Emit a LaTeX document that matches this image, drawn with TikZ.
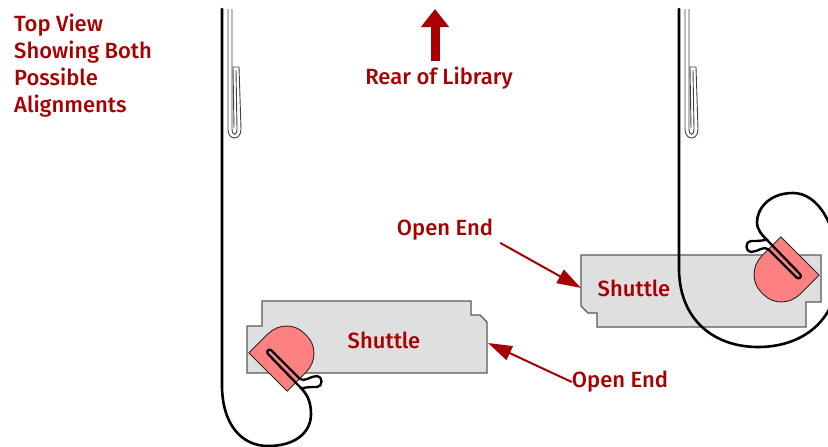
\documentclass[tikz,border=0pt]{standalone}
\usepackage{fontspec}
\setmainfont{Liberation Sans}
\newfontfamily\labelfamily{Fira Sans}[UprightFont=* Medium]
\usetikzlibrary{arrows.meta}

\definecolor{labelred}{HTML}{A80000}
\definecolor{shuttlegray}{HTML}{DFDFDF}
\definecolor{plugpink}{HTML}{FF8080}

\newcommand\labelsize{\labelfamily\fontsize{22}{26.8}\selectfont}

% One shuttle with its connector and the cable's hairpin, in the lower-left position.
\newcommand\shuttleunit{%
  \path[shuttlebody] (262,301) -- (471,301) -- (471,315) -- (480,315) -- (487,322)
    -- (487,373) -- (247,373) -- (247,326) -- (262,326) -- cycle;
  \begin{scope}[shift={(268,372)}, rotate=45]
    \path[plugbody] (0,-27) -- (27,-27) .. controls (41,-27) and (53,-16) .. (53,-2)
      -- (53,2) .. controls (53,16) and (41,27) .. (27,27) -- (0,27) -- cycle;
  \end{scope}
  \draw[cable, line width=2.3pt] (300,387) -- (268,354)
    .. controls (265.5,351.5) and (269,348) .. (271.5,350.5) -- (299.5,378.5)
    .. controls (304,383) and (310,376) .. (317,376)
    .. controls (323,376) and (323,387) .. (317,387)
    .. controls (311,387) and (306,387) .. (302,388.5);
}

\begin{document}
\begin{tikzpicture}[x=1pt, y=-1pt,
  cable/.style={line width=2.6pt, line cap=round, line join=round},
  sleeve/.style={line width=0.9pt, draw=black!75},
  shuttlebody/.style={fill=shuttlegray, draw=black!65, line width=1.2pt},
  plugbody/.style={fill=plugpink, draw=black!85, line width=0.9pt},
  caption/.style={text=labelred, font=\labelsize, inner sep=0pt},
  pointer/.style={draw=labelred, line width=2pt, -{Triangle[length=24pt,width=15pt]}},
  rearpointer/.style={draw=labelred, line width=9pt, -{Triangle[length=18pt,width=27pt]}},
]
\useasboundingbox (0,0) rectangle (828,447);
\clip (0,0) rectangle (828,447);

% Shuttles: the second one is the first turned half a turn
\shuttleunit
\begin{scope}[rotate around={180:(534,314)}]
  \shuttleunit
\end{scope}

% Hanging cable sleeves with their folded tabs
\foreach \dx in {0,457} {
  \begin{scope}[xshift=\dx]
    \draw[sleeve] (228,9) -- (228,129) .. controls (228,141) and (241,141) .. (241,129)
      -- (239,67) -- (233,67) -- (234,128);
    \draw[sleeve] (232,9) -- (232,129) .. controls (232,136) and (237,136) .. (237,129) -- (236,70);
  \end{scope}
}

% Cables
\coordinate (plugA) at (300,387);
\coordinate (plugB) at (768,241);
\draw[cable] (222,9) -- (222,385) .. controls (222,425) and (242,446) .. (268,446)
  .. controls (296,446) and (311,432) .. (311,414)
  .. controls (311,400) and (306,393) .. (plugA);
\draw[cable] (679,9) -- (679,270) .. controls (680,322) and (716,347) .. (758,347)
  .. controls (805,347) and (838,318) .. (838,272)
  .. controls (838,225) and (818,193) .. (793,193)
  .. controls (768,193) and (757,210) .. (757,222)
  .. controls (757,230) and (762,235) .. (plugB);

% Labels
\node[caption, align=left, anchor=north west] (title) at (14,14)
  {Top View\\Showing Both\\Possible\\Alignments};
\node[caption] (rear) at (439,78) {Rear of Library};
\node[caption] (shuttleA) at (384,340) {Shuttle};
\node[caption] (shuttleB) at (634,288) {Shuttle};
\node[caption] (openA) at (445,230) {Open End};
\node[caption] (openB) at (620,382) {Open End};

% Pointers
\coordinate (rearfoot) at (435,61);
\coordinate (reartip) at (435,9);
\coordinate (edgeB) at (581,288);
\coordinate (edgeA) at (488,343);
\draw[rearpointer] (rearfoot) -- (reartip);
\draw[pointer] ([xshift=7pt,yshift=-2pt]openA.south east) -- (edgeB);
\draw[pointer] (openB.west) -- (edgeA);
\end{tikzpicture}
\end{document}
